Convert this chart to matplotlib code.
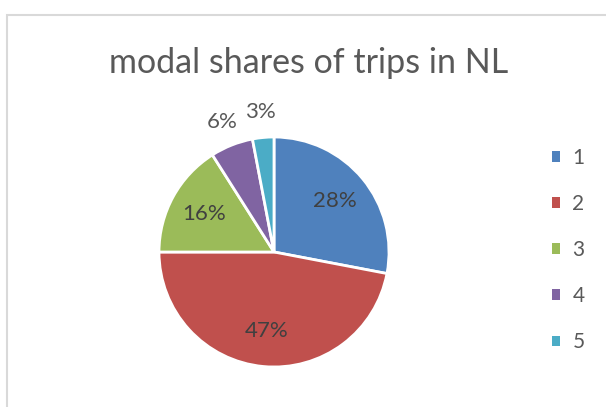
import numpy as np
import matplotlib
matplotlib.use('Agg')
import matplotlib.pyplot as plt
from matplotlib.patches import Patch, Rectangle

# data
categories = ['1', '2', '3', '4', '5']
shares = [28, 47, 16, 6, 3]
colors = ['#4F81BD', '#C0504D', '#9BBB59', '#8064A2', '#4BACC6']
title = 'modal shares of trips in NL'

plt.rcParams['font.family'] = ['Lato', 'DejaVu Sans']

W, H = 606, 407
fig = plt.figure(figsize=(W / 100, H / 100), dpi=100)
fig.patch.set_facecolor('white')

# chart area frame (cut off at right and bottom)
fig.patches.append(Rectangle((6.5 / W, -0.1), 1.2, 1.1 - 14.5 / H,
                             transform=fig.transFigure, fill=False,
                             edgecolor='#d9d9d9', linewidth=1.5))

# pie axes: centre (274, 252) px, radius 115 px
cx, cy, r = 274, 252, 115
ax = fig.add_axes([(cx - r) / W, (H - cy - r) / H, 2 * r / W, 2 * r / H])
wedges, texts, autotexts = ax.pie(
    shares, colors=colors, startangle=90, counterclock=False,
    autopct='%1.0f%%', pctdistance=0.69,
    wedgeprops=dict(edgecolor='white', linewidth=2),
    textprops=dict(color='#404040', fontsize=16))
ax.set_xlim(-1, 1)
ax.set_ylim(-1, 1)
ax.set_aspect('equal')
ax.axis('off')

# small slices: labels outside the pie
for w, t, v in zip(wedges, autotexts, shares):
    if v < 10:
        ang = np.deg2rad((w.theta1 + w.theta2) / 2)
        t.set_position((1.23 * np.cos(ang), 1.22 * np.sin(ang)))
        t.set_color('#595959')

fig.text(0.51, 1 - 63 / H, title, ha='center', va='center',
         fontsize=24.5, color='#595959')

handles = [Patch(facecolor=c, edgecolor='none') for c in colors]
fig.legend(handles, categories, loc='center left',
           bbox_to_anchor=(552 / W, 1 - 250 / H), frameon=False,
           fontsize=15, labelcolor='#595959', handlelength=0.38,
           handleheight=0.38, handletextpad=0.6, labelspacing=1.25,
           borderpad=0, borderaxespad=0)

fig.savefig('out.png', dpi=100)
